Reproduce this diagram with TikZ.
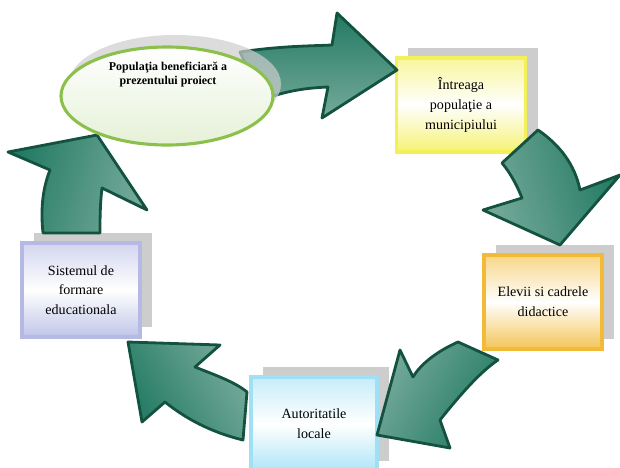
\documentclass[tikz,border=0pt]{standalone}
\usepackage{fontspec}
\setmainfont{Liberation Serif}
\usetikzlibrary{shapes.geometric, shadows, positioning}
\definecolor{cYellow}{RGB}{244,240,90}
\definecolor{cOrange}{RGB}{242,186,56}
\definecolor{cCyan}{RGB}{160,224,245}
\definecolor{cLav}{RGB}{180,186,228}
\definecolor{cShadow}{RGB}{205,205,205}
\definecolor{cLeaf}{RGB}{140,192,76}
\definecolor{cEdge}{RGB}{20,82,64}
\definecolor{cTeal}{RGB}{34,122,98}
\definecolor{cTealLt}{RGB}{118,170,155}
\tikzset{
	card/.style    ={rectangle, draw=#1, line width=2.6pt, minimum height=2.35cm, align=center, top color=#1!60!white, bottom color=#1!85!white, middle color=white, font=\fontsize{10}{14}\selectfont, drop shadow={shadow xshift=0.3cm, shadow yshift=0.25cm, fill=cShadow, opacity=1}},
	popell/.style  ={ellipse, draw=cLeaf, line width=2.2pt, minimum width=5.3cm, minimum height=2.45cm, top color=white, bottom color=cLeaf!22, drop shadow={shadow xshift=0.2cm, shadow yshift=0.3cm, fill=cShadow, opacity=.7}},
	% block arrows of the cycle
	bigarrow/.style={draw=cEdge, line width=2pt, line join=round, top color=cTeal, bottom color=cTealLt, shading angle=#1},
	bigarrow/.default=0,
}
\begin{document}
\begin{tikzpicture}[x=0.025cm, y=-0.025cm]
	\useasboundingbox (0,0) rectangle (620,468);
	\clip (0,0) rectangle (620,468);
	% the four boxes
	\foreach \nm/\pos/\w/\col/\txt in {
		intreaga/{(461,105)}/3.225cm/cYellow/{Întreaga\\populaţie a\\municipiului},
		elevii/{(543,302)}/2.95cm/cOrange/{Elevii si cadrele\\didactice},
		autoritati/{(314,424)}/3.15cm/cCyan/{Autoritatile\\locale},
		sistemul/{(81,290)}/2.95cm/cLav/{Sistemul de\\formare\\educationala}} {
		\node[card=\col, minimum width=\w] (\nm) at \pos {\txt};
	}
	% arrows
	\shade[bigarrow=0] (240,52) .. controls (280,46) and (310,46) .. (332,45) -- (337,13) -- (397,70) -- (322,118) -- (328,87) .. controls (305,88) and (285,91) .. (262,100) -- cycle;
	\shade[bigarrow=-75] (538,130) -- (502,163) .. controls (512,175) and (518,188) .. (522,198) -- (483,210) -- (560,245) -- (620,175) -- (580,190) .. controls (575,165) and (560,145) .. cycle;
	\shade[bigarrow=-120] (458,342) .. controls (440,350) and (422,362) .. (413,377) -- (400,350) -- (377,435) -- (450,448) -- (440,420) .. controls (460,395) and (480,372) .. (498,360) -- cycle;
	\shade[bigarrow=120] (128,342) -- (220,345) -- (195,367) .. controls (215,375) and (235,382) .. (247,392) -- (243,440) .. controls (210,432) and (185,418) .. (165,402) -- (142,422) -- cycle;
	\shade[bigarrow=75] (97,135) -- (147,210) -- (102,188) .. controls (100,205) and (100,220) .. (100,233) -- (43,233) .. controls (40,205) and (44,185) .. (50,170) -- (8,152) -- cycle;
	% target population
	\node[popell] (pop) at (167,96) {};
	\node[font=\bfseries\fontsize{8.5}{10}\selectfont, align=center] (poptxt) at (168,75) {Populaţia beneficiară a\\prezentului proiect};
\end{tikzpicture}
\end{document}
